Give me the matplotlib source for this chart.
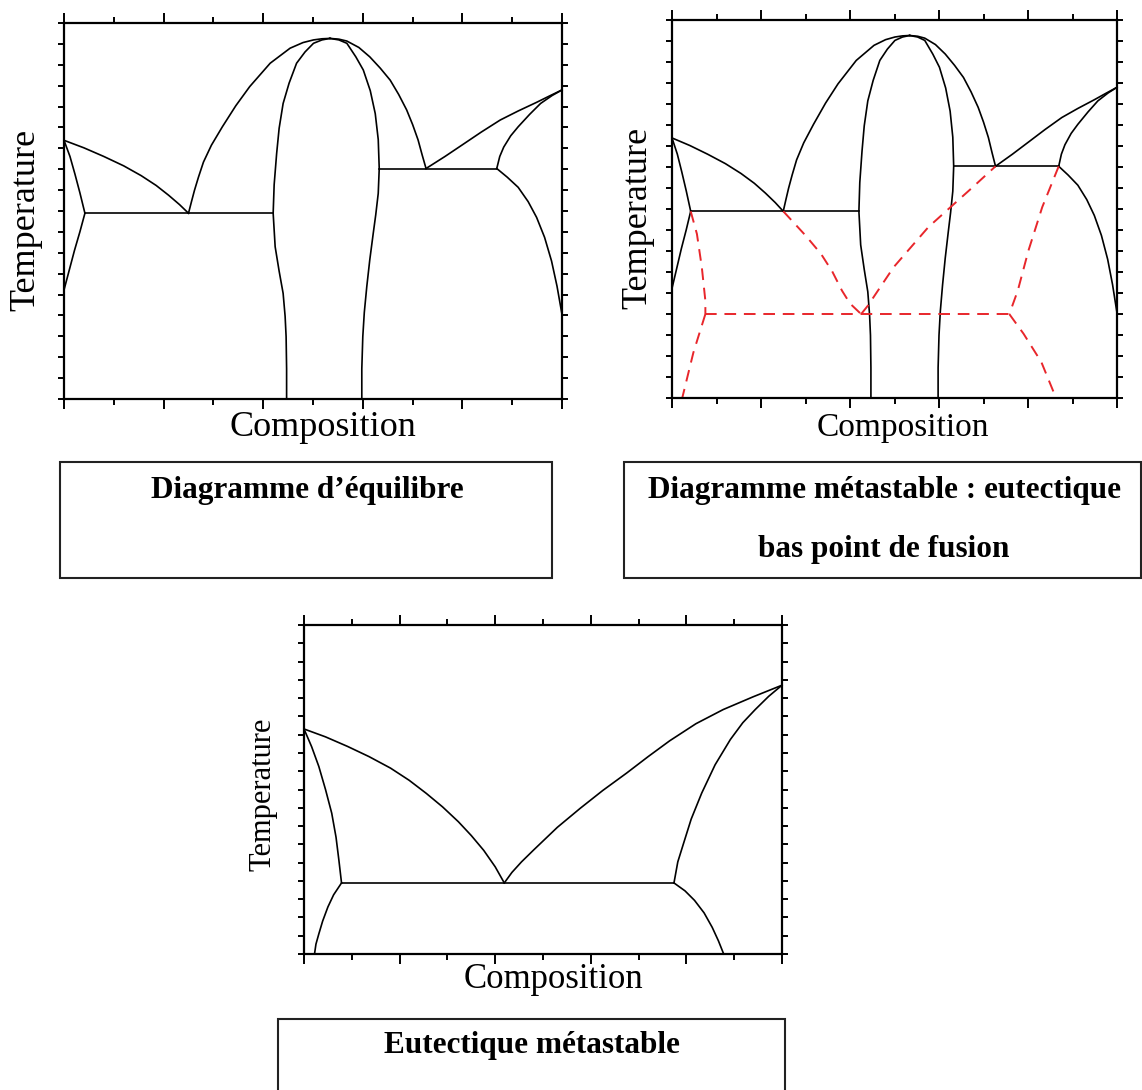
import numpy as np
import matplotlib
matplotlib.use("Agg")
import matplotlib.pyplot as plt
from matplotlib.patches import Rectangle

W, H = 1142, 1090
SERIF = ["Liberation Serif", "DejaVu Serif"]

# ---- equilibrium diagram (panels 1 and 2), axes fractions ----
eq_liq_a = [(0.0, 0.688), (0.04, 0.668), (0.08, 0.645), (0.12, 0.62), (0.155, 0.594),
            (0.185, 0.568), (0.21, 0.542), (0.232, 0.517), (0.25, 0.494)]
eq_sol_a = [(0.0, 0.688), (0.012, 0.645), (0.022, 0.598), (0.032, 0.548), (0.042, 0.494)]
eq_solvus_a = [(0.042, 0.494), (0.032, 0.445), (0.021, 0.395), (0.010, 0.340), (0.0, 0.29)]
eq_eut_1 = [(0.042, 0.494), (0.420, 0.494)]
eq_dome_left = [(0.25, 0.494), (0.256, 0.525), (0.262, 0.555), (0.270, 0.59), (0.280, 0.63),
                (0.296, 0.675), (0.318, 0.724), (0.345, 0.78), (0.373, 0.831), (0.414, 0.893),
                (0.454, 0.933), (0.480, 0.948), (0.501, 0.955), (0.518, 0.958), (0.534, 0.959)]
eq_dome_right = [(0.534, 0.959), (0.552, 0.957), (0.568, 0.952), (0.592, 0.935), (0.614, 0.910),
                 (0.635, 0.880), (0.655, 0.848), (0.672, 0.810), (0.688, 0.769), (0.700, 0.730),
                 (0.711, 0.689), (0.719, 0.650), (0.727, 0.613)]
eq_phase_left = [(0.534, 0.959), (0.518, 0.955), (0.501, 0.946), (0.484, 0.923), (0.467, 0.893),
                 (0.452, 0.84), (0.440, 0.786), (0.432, 0.72), (0.427, 0.653), (0.422, 0.57),
                 (0.420, 0.494), (0.424, 0.405), (0.432, 0.34), (0.440, 0.281), (0.444, 0.22),
                 (0.446, 0.166), (0.447, 0.08), (0.447, 0.0)]
eq_phase_right = [(0.534, 0.959), (0.552, 0.955), (0.568, 0.946), (0.586, 0.91), (0.601, 0.875),
                  (0.615, 0.82), (0.625, 0.759), (0.631, 0.69), (0.633, 0.613), (0.631, 0.547),
                  (0.626, 0.49), (0.621, 0.441), (0.614, 0.37), (0.608, 0.299), (0.603, 0.23),
                  (0.600, 0.166), (0.598, 0.08), (0.598, 0.0)]
eq_eut_2 = [(0.633, 0.613), (0.869, 0.613)]
eq_liq_b = [(0.727, 0.613), (0.765, 0.645), (0.801, 0.677), (0.838, 0.710), (0.876, 0.742),
            (0.912, 0.766), (0.949, 0.789), (0.975, 0.806), (1.0, 0.822)]
eq_sol_b = [(0.869, 0.613), (0.875, 0.645), (0.883, 0.670), (0.897, 0.70), (0.912, 0.724),
            (0.935, 0.757), (0.957, 0.786), (0.98, 0.807), (1.0, 0.822)]
eq_solvus_b = [(0.869, 0.613), (0.89, 0.59), (0.912, 0.563), (0.932, 0.525), (0.949, 0.483),
               (0.965, 0.43), (0.979, 0.367), (0.99, 0.30), (1.0, 0.225)]
EQ_CURVES = [eq_liq_a, eq_sol_a, eq_solvus_a, eq_eut_1, eq_dome_left, eq_dome_right,
             eq_phase_left, eq_phase_right, eq_eut_2, eq_liq_b, eq_sol_b, eq_solvus_b]

# ---- metastable low-melting eutectic (red dashed, panel 2) ----
ms_sol_a = [(0.042, 0.494), (0.056, 0.434), (0.067, 0.346), (0.075, 0.257), (0.075, 0.222)]
ms_solvus_a = [(0.075, 0.222), (0.048, 0.12), (0.023, 0.0)]
ms_eut = [(0.075, 0.222), (0.758, 0.222)]
ms_liq_a = [(0.25, 0.494), (0.30, 0.43), (0.335, 0.381), (0.36, 0.335), (0.382, 0.284),
            (0.40, 0.25), (0.425, 0.222)]
ms_liq_b = [(0.425, 0.222), (0.44, 0.244), (0.498, 0.346), (0.576, 0.452), (0.626, 0.505),
            (0.677, 0.559), (0.727, 0.613)]
ms_sol_b = [(0.869, 0.613), (0.832, 0.505), (0.801, 0.390), (0.777, 0.284), (0.758, 0.222)]
ms_solvus_b = [(0.758, 0.222), (0.79, 0.17), (0.83, 0.095), (0.863, 0.0)]
MS_CURVES = [ms_sol_a, ms_solvus_a, ms_eut, ms_liq_a, ms_liq_b, ms_sol_b, ms_solvus_b]

# ---- metastable eutectic (panel 3) ----
eu_liq_a = [(0.0, 0.684), (0.045, 0.66), (0.091, 0.631), (0.136, 0.6), (0.181, 0.565),
            (0.22, 0.528), (0.256, 0.488), (0.29, 0.447), (0.323, 0.402), (0.35, 0.36),
            (0.376, 0.315), (0.40, 0.265), (0.419, 0.216)]
eu_sol_a = [(0.0, 0.684), (0.016, 0.63), (0.031, 0.570), (0.045, 0.50), (0.058, 0.428),
            (0.067, 0.355), (0.073, 0.285), (0.0785, 0.216)]
eu_solvus_a = [(0.0785, 0.216), (0.062, 0.18), (0.050, 0.143), (0.039, 0.10), (0.031, 0.061),
               (0.025, 0.03), (0.022, 0.0)]
eu_eut = [(0.0785, 0.216), (0.774, 0.216)]
eu_liq_b = [(0.419, 0.216), (0.435, 0.248), (0.455, 0.28), (0.481, 0.317), (0.53, 0.385),
            (0.578, 0.443), (0.625, 0.497), (0.675, 0.550), (0.72, 0.60), (0.765, 0.648),
            (0.82, 0.70), (0.877, 0.743), (0.94, 0.782), (1.0, 0.817)]
eu_sol_b = [(0.774, 0.216), (0.782, 0.28), (0.794, 0.336), (0.81, 0.41), (0.832, 0.489),
            (0.86, 0.575), (0.892, 0.652), (0.918, 0.703), (0.944, 0.743), (0.972, 0.783),
            (1.0, 0.817)]
eu_solvus_b = [(0.774, 0.216), (0.797, 0.192), (0.817, 0.163), (0.837, 0.125), (0.854, 0.081),
               (0.867, 0.04), (0.878, 0.0)]
EU_CURVES = [eu_liq_a, eu_sol_a, eu_solvus_a, eu_eut, eu_liq_b, eu_sol_b, eu_solvus_b]

XLABEL = "Composition"
YLABEL = "Temperature"
CAPTIONS = ["Diagramme d\u2019\u00e9quilibre",
            "Diagramme m\u00e9tastable : eutectique",
            "bas point de fusion",
            "Eutectique m\u00e9tastable"]


def axes_px(fig, left, top, right, bottom):
    return fig.add_axes([left / W, 1 - bottom / H, (right - left) / W, (bottom - top) / H])


def frame(ax):
    ax.set_xlim(0, 1)
    ax.set_ylim(0, 1)
    ax.set_xticks(np.arange(0, 1.01, 0.2))
    ax.set_xticks(np.arange(0.1, 1.0, 0.2), minor=True)
    ax.set_yticks(np.linspace(0, 1, 19))
    ax.tick_params(axis="both", which="both", direction="out", top=True, right=True,
                   labelbottom=False, labelleft=False, width=1.4, color="black")
    ax.tick_params(axis="x", which="major", length=7)
    ax.tick_params(axis="x", which="minor", length=4)
    ax.tick_params(axis="y", which="major", length=4.5)
    for s in ax.spines.values():
        s.set_linewidth(1.6)


def draw(ax, curves, **kw):
    for c in curves:
        xs, ys = zip(*c)
        ax.plot(xs, ys, clip_on=False, solid_joinstyle="round", **kw)


def caption_box(fig, left, top, right, bottom):
    fig.add_artist(Rectangle((left / W, 1 - bottom / H), (right - left) / W, (bottom - top) / H,
                             transform=fig.transFigure, fill=False, lw=1.5, ec="#222222"))


fig = plt.figure(figsize=(W / 100, H / 100), dpi=100)

line_kw = dict(color="black", lw=1.2)
red_kw = dict(color="#e8262b", lw=1.4, dashes=(6, 4))

ax1 = axes_px(fig, 64, 23, 562, 399)
frame(ax1)
draw(ax1, EQ_CURVES, **line_kw)

ax2 = axes_px(fig, 672, 20, 1117, 398)
frame(ax2)
draw(ax2, EQ_CURVES, **line_kw)
draw(ax2, MS_CURVES, **red_kw)

ax3 = axes_px(fig, 304, 625, 782, 954)
frame(ax3)
draw(ax3, EU_CURVES, **line_kw)

# axis labels
fig.text(323 / W, 1 - 428 / H, XLABEL, ha="center", va="center", family=SERIF, fontsize=26)
fig.text(26 / W, 1 - 220 / H, YLABEL, ha="center", va="center", rotation=90, family=SERIF, fontsize=26)
fig.text(903 / W, 1 - 428 / H, XLABEL, ha="center", va="center", family=SERIF, fontsize=24)
fig.text(638 / W, 1 - 218 / H, YLABEL, ha="center", va="center", rotation=90, family=SERIF, fontsize=26)
fig.text(553 / W, 1 - 980 / H, XLABEL, ha="center", va="center", family=SERIF, fontsize=25)
fig.text(263 / W, 1 - 794 / H, YLABEL, ha="center", va="center", rotation=90, family=SERIF, fontsize=22)

# caption boxes
caption_box(fig, 60, 462, 552, 578)
caption_box(fig, 624, 462, 1141, 578)
caption_box(fig, 278, 1019, 785, 1100)
cap_kw = dict(ha="center", va="center", family=SERIF, fontsize=22.5, fontweight="bold")
fig.text(307 / W, 1 - 491 / H, CAPTIONS[0], **cap_kw)
fig.text(884 / W, 1 - 491 / H, CAPTIONS[1], **cap_kw)
fig.text(884 / W, 1 - 550 / H, CAPTIONS[2], **cap_kw)
fig.text(532 / W, 1 - 1046 / H, CAPTIONS[3], **cap_kw)

fig.savefig("out.png", dpi=100)
